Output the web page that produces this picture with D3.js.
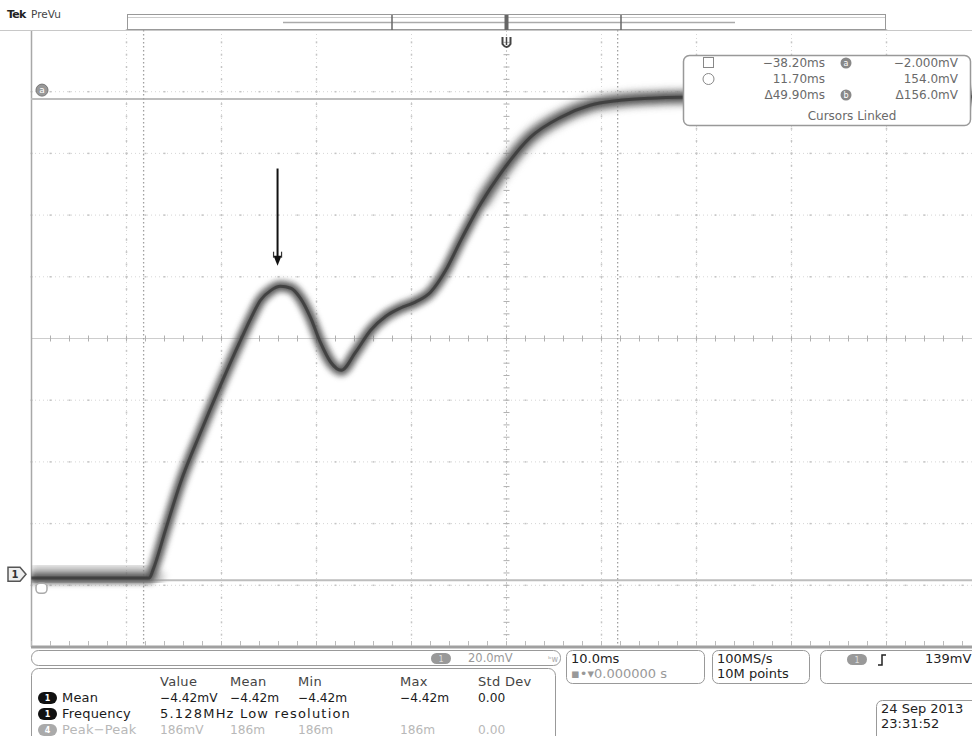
<!DOCTYPE html>
<html><head><meta charset="utf-8">
<script src="https://cdn.jsdelivr.net/npm/d3@7"></script>
<style>
body{margin:0;background:#fff}
svg{display:block}
text{font-family:"DejaVu Sans",sans-serif}
</style>
</head><body>
<svg id="c" width="972" height="736"></svg>
<script>
// ---------- data ----------
const timeMs = [-50, -45, -40, -37.6, -37.2, -35.9, -34.3, -32.2, -30.1, -28.0, -26.9, -25.9, -24.8, -23.8, -22.7, -21.7, -20.6, -19.6, -18.5, -17.4, -15.9, -14.3, -12.7, -11.2, -9.6, -8.0, -6.4, -4.8, -2.7, -0.6, 2.5, 5.7, 8.8, 12.0, 15.2, 18.3, 30, 50];
const voltMv = [-1.2, -1.2, -1.2, -1.2, 1.5, 14.3, 29.8, 46.0, 61.3, 75.8, 83.0, 88.8, 92.0, 93.3, 92.7, 89.5, 83.0, 75.2, 68.7, 66.1, 71.9, 79.1, 83.6, 86.2, 88.2, 91.4, 98.5, 108.3, 120.2, 130.0, 141.6, 148.1, 152.0, 153.6, 154.3, 154.6, 154.8, 154.8];
const spikeTime = -37.2;
const spikeVolts = [-21, 8];
const cursorTimes = [-38.20, 11.70];
const cursorVolts = [-2.0, 154.0];
const msPerDiv = 10, mvPerDiv = 20, offsetDiv = -3.82;
const arrowTime = -24.1, arrowFromMv = 131.5, arrowToMv = 100;
const cursorRows = [
  ["□", "−38.20ms", "a", "−2.000mV"],
  ["○", "11.70ms", "", "154.0mV"],
  ["", "Δ49.90ms", "b", "Δ156.0mV"]
];
const measHeaders = ["Value", "Mean", "Min", "Max", "Std Dev"];
const measRows = [
  {src: "1", name: "Mean", vals: ["−4.42mV", "−4.42m", "−4.42m", "−4.42m", "0.00"], dim: false},
  {src: "1", name: "Frequency", vals: ["5.128MHz Low resolution"], dim: false},
  {src: "4", name: "Peak−Peak", vals: ["186mV", "186m", "186m", "186m", "0.00"], dim: true}
];

// ---------- scales ----------
const svg = d3.select("#c");
const divX = d3.scaleLinear().domain([-5, 5]).range([31.5, 981.5]);
const divY = d3.scaleLinear().domain([-5, 5]).range([647, 30]);
const x = d3.scaleLinear().domain([-5 * msPerDiv, 5 * msPerDiv]).range(divX.range());
const y = d3.scaleLinear().domain([(-5 - offsetDiv) * mvPerDiv, (5 - offsetDiv) * mvPerDiv]).range(divY.range());

const defs = svg.append("defs");
defs.append("filter").attr("id", "blur").attr("x", "-20%").attr("y", "-20%").attr("width", "140%").attr("height", "140%")
  .append("feGaussianBlur").attr("stdDeviation", 2.4);
defs.append("filter").attr("id", "blur2").attr("x", "-20%").attr("y", "-50%").attr("width", "140%").attr("height", "200%")
  .append("feGaussianBlur").attr("stdDeviation", 3.5);
defs.append("clipPath").attr("id", "plot").append("rect").attr("x", 31).attr("y", 30).attr("width", 941).attr("height", 617);

// ---------- graticule ----------
const g = svg.append("g");
const majors = d3.range(-4, 5);
const minors = d3.range(-5, 5.001, 0.2);
majors.filter(d => d !== 0).forEach(i => {
  g.append("line").attr("x1", divX(i)).attr("x2", divX(i)).attr("y1", 30).attr("y2", 647)
    .attr("stroke", "#d6d6d6").attr("stroke-dasharray", "1,3");
  g.append("line").attr("y1", divY(i)).attr("y2", divY(i)).attr("x1", 31).attr("x2", 972)
    .attr("stroke", "#d6d6d6").attr("stroke-dasharray", "1,3");
  g.selectAll(null).data(minors).enter().append("rect")
    .attr("x", divX(i) - 0.75).attr("y", d => divY(d) - 1).attr("width", 1.5).attr("height", 2).attr("fill", "#c4c4c4");
  g.selectAll(null).data(minors).enter().append("rect")
    .attr("y", divY(i) - 0.75).attr("x", d => divX(d) - 1).attr("height", 1.5).attr("width", 2).attr("fill", "#c4c4c4");
});
g.append("line").attr("x1", divX(0)).attr("x2", divX(0)).attr("y1", 30).attr("y2", 647).attr("stroke", "#c8c8c8").attr("stroke-dasharray", "2,2");
g.append("line").attr("y1", divY(0)).attr("y2", divY(0)).attr("x1", 31).attr("x2", 972).attr("stroke", "#cdcdcd");
g.selectAll(null).data(minors).enter().append("line")
  .attr("x1", divX(0) - 3).attr("x2", divX(0) + 3).attr("y1", d => divY(d)).attr("y2", d => divY(d)).attr("stroke", "#b0b0b0");
g.selectAll(null).data(minors).enter().append("line")
  .attr("y1", divY(0) - 3).attr("y2", divY(0) + 3).attr("x1", d => divX(d)).attr("x2", d => divX(d)).attr("stroke", "#b0b0b0");
g.append("line").attr("x1", 31.5).attr("x2", 31.5).attr("y1", 30).attr("y2", 647).attr("stroke", "#a8a8a8").attr("stroke-width", 1.5);
g.append("line").attr("x1", 31).attr("x2", 972).attr("y1", 647).attr("y2", 647).attr("stroke", "#a0a0a0").attr("stroke-width", 3);
g.append("line").attr("x1", 0).attr("x2", 972).attr("y1", 30.5).attr("y2", 30.5).attr("stroke", "#c8c8c8");
g.selectAll(null).data(minors).enter().append("line")
  .attr("x1", d => divX(d)).attr("x2", d => divX(d)).attr("y1", 641).attr("y2", 646).attr("stroke", "#bbb");

// ---------- cursors ----------
const cur = svg.append("g");
cursorVolts.forEach(v => cur.append("line").attr("x1", 31).attr("x2", 972).attr("y1", y(v)).attr("y2", y(v))
  .attr("stroke", "#bdbdbd").attr("stroke-width", 2));
cursorTimes.forEach(t => cur.append("line").attr("x1", x(t)).attr("x2", x(t)).attr("y1", 30).attr("y2", 647)
  .attr("stroke", "#a0a0a0").attr("stroke-width", 1.3).attr("stroke-dasharray", "1.5,2.5"));

// ---------- trace ----------
const pts = timeMs.map((t, i) => [t, voltMv[i]]);
const line = d3.line().x(d => x(d[0])).y(d => y(d[1])).curve(d3.curveMonotoneX);
const tr = svg.append("g").attr("clip-path", "url(#plot)");
const flatPts = pts.filter(d => d[0] <= -37.2);
const topPts = pts.filter(d => d[0] >= -3);
tr.append("path").attr("d", line(flatPts)).attr("fill", "none").attr("stroke", "#999").attr("stroke-width", 26).attr("opacity", 0.55).attr("filter", "url(#blur2)");
tr.append("path").attr("d", line(topPts)).attr("fill", "none").attr("stroke", "#999").attr("stroke-width", 18).attr("opacity", 0.55).attr("filter", "url(#blur2)");
tr.append("path").attr("d", line(pts)).attr("fill", "none").attr("stroke", "#888").attr("stroke-width", 14).attr("opacity", 0.6).attr("filter", "url(#blur)");
tr.append("path").attr("d", line(pts)).attr("fill", "none").attr("stroke", "#444").attr("stroke-width", 7).attr("opacity", 0.85).attr("filter", "url(#blur)");
tr.append("path").attr("d", line(pts)).attr("fill", "none").attr("stroke", "#3a3a3a").attr("stroke-width", 3).attr("opacity", 0.8);
tr.append("line").attr("x1", x(spikeTime)).attr("x2", x(spikeTime)).attr("y1", y(spikeVolts[0])).attr("y2", y(spikeVolts[1]))
  .attr("stroke", "#555").attr("stroke-width", 2).attr("filter", "url(#blur)").attr("opacity", 0.9);

// ---------- arrow annotation ----------
const ax = x(arrowTime);
svg.append("line").attr("x1", ax).attr("x2", ax).attr("y1", y(arrowFromMv)).attr("y2", y(arrowToMv) - 6).attr("stroke", "#111").attr("stroke-width", 2);
svg.append("path").attr("d", `M${ax - 4},${y(arrowToMv) - 10} L${ax + 4},${y(arrowToMv) - 10} L${ax},${y(arrowToMv)} Z`).attr("fill", "#111");
svg.append("line").attr("x1", ax - 4).attr("x2", ax - 4).attr("y1", y(arrowToMv) - 14).attr("y2", y(arrowToMv) - 8).attr("stroke", "#333").attr("stroke-width", 1.2);
svg.append("line").attr("x1", ax + 4).attr("x2", ax + 4).attr("y1", y(arrowToMv) - 14).attr("y2", y(arrowToMv) - 8).attr("stroke", "#333").attr("stroke-width", 1.2);

// ---------- left markers ----------
const ly = y(0);
svg.append("path").attr("d", `M8,${ly - 7} h12 l6,7 l-6,7 h-12 Z`).attr("fill", "#eee").attr("stroke", "#555").attr("stroke-width", 1.5);
svg.append("text").attr("x", 15).attr("y", ly + 4).attr("font-size", 10).attr("text-anchor", "middle").attr("fill", "#333").attr("font-weight", "bold").text("1");
svg.append("circle").attr("cx", 42).attr("cy", y(cursorVolts[1]) - 9).attr("r", 6).attr("fill", "#999").attr("stroke", "#777");
svg.append("text").attr("x", 42).attr("y", y(cursorVolts[1]) - 6).attr("font-size", 9).attr("text-anchor", "middle").attr("fill", "#fff").text("a");
svg.append("rect").attr("x", 36).attr("y", y(cursorVolts[0]) + 3).attr("width", 11).attr("height", 10).attr("rx", 4).attr("fill", "#fff").attr("stroke", "#aaa").attr("stroke-width", 1.5);

// ---------- top bar ----------
svg.append("text").attr("x", 7).attr("y", 18).attr("font-size", 11).attr("font-weight", "bold").attr("fill", "#222").attr("letter-spacing", -0.8).text("Tek");
svg.append("text").attr("x", 31).attr("y", 18).attr("font-size", 10.5).attr("fill", "#444").text("PreVu");
svg.append("rect").attr("x", 127.5).attr("y", 14.5).attr("width", 758).attr("height", 15).attr("fill", "#fff").attr("stroke", "#999");
svg.append("line").attr("x1", 128).attr("x2", 885).attr("y1", 17.5).attr("y2", 17.5).attr("stroke", "#ccc");
svg.append("line").attr("x1", 283).attr("x2", 735).attr("y1", 22.5).attr("y2", 22.5).attr("stroke", "#aaa").attr("stroke-width", 1.5);
[392, 621].forEach(v => svg.append("line").attr("x1", v).attr("x2", v).attr("y1", 15).attr("y2", 30).attr("stroke", "#666").attr("stroke-width", 1.5));
svg.append("rect").attr("x", divX(0) - 2).attr("y", 15).attr("width", 4).attr("height", 15).attr("fill", "#666");
svg.append("path").attr("d", `M${divX(0) - 4},37 v7 q4,6 8,0 v-7`).attr("fill", "none").attr("stroke", "#444").attr("stroke-width", 2);
svg.append("line").attr("x1", divX(0)).attr("x2", divX(0)).attr("y1", 37).attr("y2", 45).attr("stroke", "#444").attr("stroke-width", 1.5);

// ---------- cursor readout ----------
const cb = svg.append("g");
cb.append("rect").attr("x", 683.5).attr("y", 55.5).attr("width", 287).attr("height", 70).attr("rx", 6).attr("fill", "#fff").attr("stroke", "#999").attr("stroke-width", 1.5);
cursorRows.forEach((r, i) => {
  const yy = 67 + i * 16;
  if (r[0] === "□") cb.append("rect").attr("x", 703.5).attr("y", yy - 9.5).attr("width", 10).attr("height", 10).attr("fill", "none").attr("stroke", "#888");
  if (r[0] === "○") cb.append("circle").attr("cx", 708.5).attr("cy", yy - 4).attr("r", 5.5).attr("fill", "none").attr("stroke", "#888");
  cb.append("text").attr("x", 825).attr("y", yy).attr("text-anchor", "end").attr("font-size", 12).attr("fill", "#6a6a6a").text(r[1]);
  if (r[2]) {
    cb.append("circle").attr("cx", 846).attr("cy", yy - 4).attr("r", 5.5).attr("fill", "#888");
    cb.append("text").attr("x", 846).attr("y", yy - 1).attr("text-anchor", "middle").attr("font-size", 8).attr("fill", "#fff").text(r[2]);
  }
  cb.append("text").attr("x", 958).attr("y", yy).attr("text-anchor", "end").attr("font-size", 12).attr("fill", "#6a6a6a").text(r[3]);
});
cb.append("text").attr("x", 852).attr("y", 120).attr("text-anchor", "middle").attr("font-size", 12).attr("fill", "#6a6a6a").text("Cursors Linked");

// ---------- bottom panels ----------
const bp = svg.append("g");
bp.append("rect").attr("x", 31.5).attr("y", 650.5).attr("width", 529).attr("height", 15).attr("rx", 7).attr("fill", "#fff").attr("stroke", "#999");
bp.append("rect").attr("x", 431).attr("y", 653).attr("width", 20).attr("height", 11).attr("rx", 5.5).attr("fill", "#999");
bp.append("text").attr("x", 441).attr("y", 662).attr("text-anchor", "middle").attr("font-size", 8).attr("fill", "#ddd").text("1");
bp.append("text").attr("x", 468).attr("y", 662).attr("font-size", 11.5).attr("fill", "#999").text("20.0mV");
bp.append("text").attr("x", 548).attr("y", 662).attr("font-size", 8).attr("fill", "#aaa").text("ᵇw");

bp.append("rect").attr("x", 31.5).attr("y", 668.5).attr("width", 524).attr("height", 80).attr("rx", 7).attr("fill", "#fff").attr("stroke", "#999");
const colX = [160, 230, 298, 400, 478];
measHeaders.forEach((h, i) => bp.append("text").attr("x", colX[i]).attr("y", 686).attr("font-size", 13).attr("letter-spacing", 0.3).attr("fill", "#444").text(h));
measRows.forEach((r, j) => {
  const yy = 702 + j * 16;
  const col = r.dim ? "#b8b8b8" : "#1a1a1a";
  bp.append("rect").attr("x", 38).attr("y", yy - 10).attr("width", 19).attr("height", 12).attr("rx", 6).attr("fill", r.dim ? "#aaa" : "#111");
  bp.append("text").attr("x", 47.5).attr("y", yy - 1).attr("text-anchor", "middle").attr("font-size", 8).attr("font-weight", "bold").attr("fill", "#fff").text(r.src);
  bp.append("text").attr("x", 62).attr("y", yy).attr("font-size", 13).attr("letter-spacing", 0.2).attr("fill", col).text(r.name);
  r.vals.forEach((v, i) => bp.append("text").attr("x", colX[i]).attr("y", yy)
    .attr("font-size", r.vals.length === 1 ? 13 : 12.2)
    .attr("letter-spacing", r.vals.length === 1 ? 1.2 : 0).attr("fill", col).text(v));
});

const boxes = [
  {x: 566.5, y: 650.5, w: 138, h: 33, l1: "10.0ms", l2: "▪•▾0.000000 s", c2: "#999"},
  {x: 712.5, y: 650.5, w: 97, h: 33, l1: "100MS/s", l2: "10M points", c2: "#222"},
  {x: 820.5, y: 650.5, w: 170, h: 33, l1: "", l2: "", c2: "#222"},
  {x: 876.5, y: 700.5, w: 120, h: 45, l1: "24 Sep  2013", l2: "23:31:52", c2: "#222"}
];
boxes.forEach(b => {
  bp.append("rect").attr("x", b.x).attr("y", b.y).attr("width", b.w).attr("height", b.h).attr("rx", 6).attr("fill", "#fff").attr("stroke", "#999");
  bp.append("text").attr("x", b.x + 4.5).attr("y", b.y + 12).attr("font-size", 13).attr("fill", "#222").text(b.l1);
  bp.append("text").attr("x", b.x + 4.5).attr("y", b.y + 27).attr("font-size", 13).attr("fill", b.c2).text(b.l2);
});
bp.append("rect").attr("x", 847).attr("y", 654).attr("width", 20).attr("height", 11).attr("rx", 5.5).attr("fill", "#999");
bp.append("text").attr("x", 857).attr("y", 663).attr("text-anchor", "middle").attr("font-size", 8).attr("fill", "#ddd").text("1");
bp.append("path").attr("d", "M878,665 h4 v-10 h4").attr("fill", "none").attr("stroke", "#222").attr("stroke-width", 1.5);
bp.append("text").attr("x", 925).attr("y", 663).attr("font-size", 13).attr("fill", "#222").text("139mV");
</script>
</body></html>
